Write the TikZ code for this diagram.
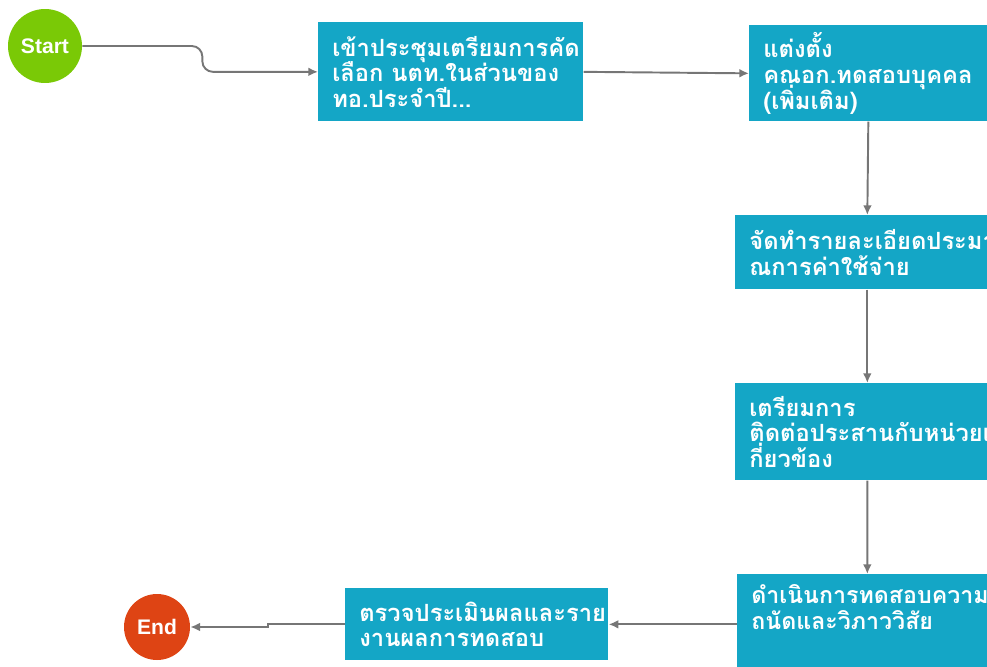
\documentclass[tikz,border=0pt]{standalone}
\usepackage{fontspec}
\newfontfamily\thaifont[Script=Thai]{Loma}
\newfontfamily\latinfont{Liberation Sans}
\usetikzlibrary{arrows.meta,calc}
\definecolor{fc_green}{RGB}{122, 201, 6}
\definecolor{fc_red}{RGB}{222, 68, 20}
\definecolor{fc_teal}{RGB}{20, 166, 198}
\definecolor{fc_line}{RGB}{118, 118, 118}
\newcommand\boxfont[1]{\thaifont\bfseries\fontsize{#1}{14.6}\selectfont\setlength{\lineskiplimit}{-20pt}}
\tikzstyle{sn}=[circle,fill=fc_green,text=white,inner sep=0pt,
  font=\latinfont\bfseries\fontsize{12}{14}\selectfont,minimum size=1.48cm]
\tikzstyle{en}=[circle,fill=fc_red,text=white,inner sep=0pt,
  font=\latinfont\bfseries\fontsize{12}{14}\selectfont,minimum size=1.32cm]
\tikzstyle{bx}=[rectangle,fill=fc_teal,text=white,anchor=north west,align=left,
  inner xsep=0.28cm,inner ysep=0pt,font=\boxfont{13.5}]
\tikzstyle{tx}=[text=white,anchor=north west,align=left,inner xsep=0.28cm,
  inner ysep=0.2cm,font=\boxfont{13.2}]
\tikzstyle{arr}=[draw=fc_line,line width=1.1pt,-{Latex[length=5.5pt,width=5pt]}]

\begin{document}
\begin{tikzpicture}[x=0.02cm,y=-0.02cm]
    \useasboundingbox (0,0) rectangle (987,666);
    \clip (0,0) rectangle (987,666);
    \node [style=sn] (start) at (45,46) {Start};
    \node [style=bx,minimum width=5.3cm,minimum height=1.98cm,text width=4.74cm] (1) at (318,22)
      {เข้าประชุมเตรียมการคัด\\เลือก นตท.ในส่วนของ\\ทอ.ประจำปี...};
    \node [style=bx,minimum width=4.76cm,minimum height=1.92cm,text width=4.2cm] (2) at (749,25)
      {แต่งตั้ง\\คณอก.ทดสอบบุคคล\\(เพิ่มเติม)};
    \node [style=bx,minimum width=5.28cm,minimum height=1.48cm,text width=4.72cm] (3) at (735,215)
      {จัดทำรายละเอียดประมา\\ณการค่าใช้จ่าย};
    \node [style=bx,minimum width=5.28cm,minimum height=1.94cm,text width=4.72cm] (4) at (735,383)
      {เตรียมการ\\ติดต่อประสานกับหน่วยเ\\กี่ยวข้อง};
    \node [style=bx,minimum width=5.2cm,minimum height=2.2cm] (5) at (737,574) {};
    \node [style=tx,text width=4.64cm] (5t) at (5.north west)
      {ดำเนินการทดสอบความ\\ถนัดและวิภาววิสัย};
    \node [style=bx,minimum width=5.26cm,minimum height=1.44cm,text width=4.7cm] (6) at (345,588)
      {ตรวจประเมินผลและราย\\งานผลการทดสอบ};
    \node [style=en] (end) at (157,627) {End};
    \draw [style=arr,rounded corners=6] (start.east) -- ++(120,0) |- (1.west);
    \draw [style=arr] (1.east) to (2.west);
    \draw [style=arr] (2.south) to (3.north);
    \draw [style=arr] (3.south) to (4.north);
    \draw [style=arr] (4.south) to (5.north);
    \draw [style=arr] (6.east -| 5.west) to (6.east);
    \draw [style=arr] (6.west) -- ++(-77,0) |- (end.east);
\end{tikzpicture}
\end{document}
